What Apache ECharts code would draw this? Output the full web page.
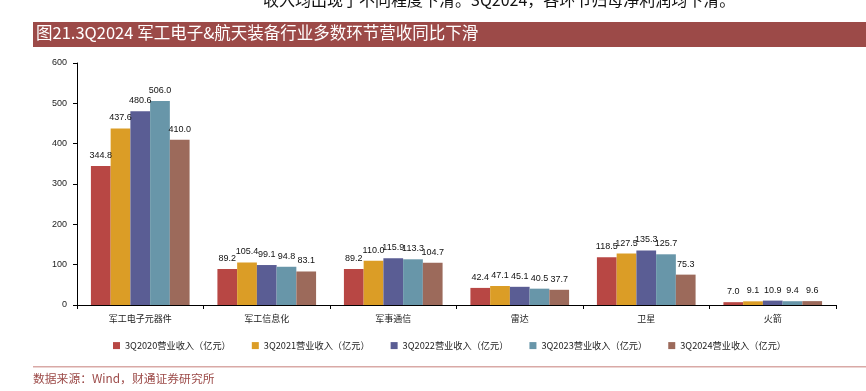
<!DOCTYPE html>
<html>
<head>
<meta charset="utf-8">
<script src="https://cdn.jsdelivr.net/npm/echarts@6/dist/echarts.min.js"></script>
<style>
html, body { margin: 0; padding: 0; background: #fff; }
#main { width: 866px; height: 391px; }
</style>
</head>
<body>
<div id="main"></div>
<script>
var dom = document.getElementById("main");
var myChart = echarts.init(dom);

var categories = ['军工电子元器件', '军工信息化', '军事通信', '雷达', '卫星', '火箭'];
var seriesNames = ['3Q2020营业收入（亿元）', '3Q2021营业收入（亿元）', '3Q2022营业收入（亿元）', '3Q2023营业收入（亿元）', '3Q2024营业收入（亿元）'];
var rev2020 = [344.8, 89.2, 89.2, 42.4, 118.5, 7.0];
var rev2021 = [437.6, 105.4, 110.0, 47.1, 127.5, 9.1];
var rev2022 = [480.6, 99.1, 115.9, 45.1, 135.3, 10.9];
var rev2023 = [506.0, 94.8, 113.3, 40.5, 125.7, 9.4];
var rev2024 = [410.0, 83.1, 104.7, 37.7, 75.3, 9.6];
var colors = ['#B84744', '#DB9D26', '#5A5D94', '#6896A9', '#9C6A5B'];

var allData = [rev2020, rev2021, rev2022, rev2023, rev2024];
var series = allData.map(function (d, i) {
    return {
        name: seriesNames[i],
        type: 'bar',
        data: d,
        barGap: '0%',
        barCategoryGap: '22%',
        itemStyle: { color: colors[i] },
        label: {
            show: true,
            position: 'top',
            distance: 6,
            color: '#111',
            fontSize: 9,
            fontFamily: 'Arial, Liberation Sans, sans-serif',
            formatter: function (p) { return p.value.toFixed(1); }
        }
    };
});

var option = {
    animation: false,
    color: colors,
    grid: { left: 77, right: 30, top: 63, bottom: 86 },
    legend: {
        top: 336,
        left: 108,
        itemWidth: 7,
        itemHeight: 7,
        itemGap: 21,
        icon: 'rect',
        textStyle: { fontSize: 9.2, color: '#222', fontFamily: 'Noto Sans CJK SC' },
        data: seriesNames
    },
    xAxis: {
        type: 'category',
        data: categories,
        axisLine: { lineStyle: { color: '#000', width: 1 } },
        axisTick: { show: true, length: 4, lineStyle: { color: '#000' } },
        axisLabel: { fontSize: 9, color: '#222', margin: 9, fontFamily: 'Noto Sans CJK SC' }
    },
    yAxis: {
        type: 'value',
        min: 0,
        max: 600,
        interval: 100,
        axisLine: { show: true, lineStyle: { color: '#000', width: 1 } },
        axisTick: { show: true, length: 4, lineStyle: { color: '#000' } },
        splitLine: { show: false },
        axisLabel: { fontSize: 9, color: '#222', margin: 10, fontFamily: 'Arial, Liberation Sans, sans-serif' }
    },
    graphic: [
        {
            type: 'text',
            left: 263,
            top: -8,
            style: {
                text: '收入均出现了不同程度下滑。3Q2024，各环节归母净利润均下滑。',
                fontSize: 16,
                fill: '#111',
                fontFamily: 'Noto Sans CJK SC'
            }
        },
        {
            type: 'rect',
            shape: { x: 33, y: 22, width: 833, height: 25 },
            style: { fill: '#9C4A48' }
        },
        {
            type: 'text',
            left: 36,
            top: 24,
            style: {
                text: '图21.3Q2024 军工电子&航天装备行业多数环节营收同比下滑',
                fontSize: 16.5,
                fill: '#fff',
                fontFamily: 'Noto Sans CJK SC'
            }
        },
        {
            type: 'rect',
            shape: { x: 33, y: 366, width: 833, height: 1.5 },
            style: { fill: '#D9A9A6' }
        },
        {
            type: 'text',
            left: 33,
            top: 373,
            style: {
                text: '数据来源：Wind，财通证券研究所',
                fontSize: 11.8,
                fill: '#9C4A48',
                fontFamily: 'Noto Sans CJK SC'
            }
        }
    ],
    series: series
};

myChart.setOption(option);
</script>
</body>
</html>
